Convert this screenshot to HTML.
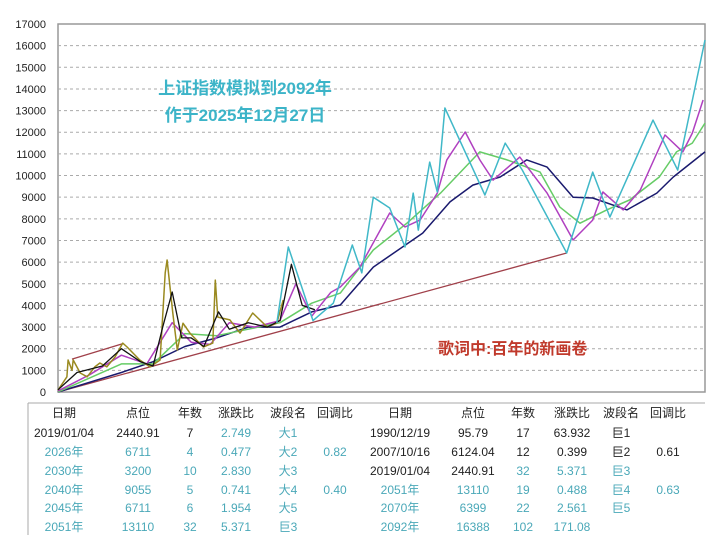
<!DOCTYPE html>
<html><head><meta charset="utf-8">
<style>
body{margin:0;background:#fff;width:720px;height:550px;overflow:hidden;font-family:"Liberation Sans","Noto Sans CJK SC",sans-serif;}
svg text{font-family:"Liberation Sans","Noto Sans CJK SC",sans-serif;}
</style></head>
<body>
<svg id="chart" width="720" height="550" xmlns="http://www.w3.org/2000/svg">
<rect x="58" y="24" width="647" height="368" fill="#fff" stroke="#999" stroke-width="1.5"/>
<g id="grid"></g><g id="yticks"></g><g id="series"></g>
<text x="245" y="94" text-anchor="middle" font-size="17" font-weight="bold" fill="#3cb4c8">上证指数模拟到2092年</text>
<text x="245" y="121" text-anchor="middle" font-size="17" font-weight="bold" fill="#3cb4c8">作于2025年12月27日</text>
<text x="438" y="354" font-size="16" font-weight="bold" fill="#c0392b">歌词中:百年的新画卷</text>
<line x1="28" y1="403" x2="705" y2="403" stroke="#aaa"/>
<line x1="28" y1="403" x2="28" y2="535" stroke="#aaa"/>
<g id="table" font-size="12"></g>
</svg>
<script>
const yTicks=[0,1000,2000,3000,4000,5000,6000,7000,8000,9000,10000,11000,12000,13000,14000,15000,16000,17000];
const trendYears=[1990,2070.2];
const trendVals=[0,6420];
const channelYears=[1992.2,2000.1];
const channelVals=[1520,2220];
const oliveYears=[1990,1991.4,1991.6,1992.2,1992.4,1993.5,1994.6,1995.8,1996.6,1997.7,1999,2000.2,2000.9,2002.9,2004.5,2006.1,2006.9,2007.2,2008.1,2008.8,2009.7,2010.8,2012.9,2014.4,2014.8,2015.2,2017.1,2018.7,2020.7,2023,2024.5,2025.5];
const oliveVals=[90,700,1480,1000,1480,880,700,1160,1340,1160,1620,2260,2080,1480,1160,1480,5500,6100,3650,1940,3180,2720,2080,2260,5170,3460,3330,2720,3650,3000,3180,4250];
const blackYears=[1990,1993,1997,2000,2003,2005,2006.5,2008,2009.5,2011,2013,2015.3,2017,2020,2023,2025,2026.8,2028.5,2030.5];
const blackVals=[100,900,1200,2000,1400,1200,3000,4620,2500,2500,2100,3700,2900,3200,3000,3300,5900,4000,3800];
const cyanYears=[2024.5,2026.3,2030.2,2033.4,2036.4,2037.9,2039.7,2042.3,2044.7,2046,2046.8,2048.6,2049.8,2051,2057.3,2060.5,2063.2,2070.2,2074.3,2077,2083.8,2087.7,2092];
const cyanVals=[3180,6700,3300,4100,6790,5500,9000,8500,6700,9190,7480,10620,9240,13120,9100,11500,10250,6420,10160,8080,12560,10250,16260];
const magentaYears=[1990,1995,2000,2004,2008,2011,2014,2017,2021,2025,2027.5,2030,2033,2034.5,2037.6,2042.3,2044.7,2047.1,2049.8,2051.3,2054.2,2056.5,2058.6,2062.8,2067.1,2071.2,2074.3,2075.9,2079.1,2081.8,2085.7,2088.5,2090,2091.7];
const magentaVals=[50,800,1700,1300,3200,2300,2200,3200,3000,3300,5000,3500,4600,4850,5770,8270,7620,7950,9190,10720,12010,10720,9790,10850,9190,7020,7940,9240,8410,9330,11870,11090,11960,13490];
const greenYears=[1990,2000,2005,2010,2015,2020,2025,2030,2034.5,2039.7,2045,2050.3,2056.5,2060.8,2066,2069.1,2072.3,2076.5,2080.1,2084.8,2087.5,2090,2092];
const greenVals=[0,1300,1300,2700,2600,2900,3200,4100,4570,6560,7800,9190,11090,10720,10160,8550,7800,8410,8870,9930,11090,11500,12420];
const navyYears=[1990,2000,2005,2010,2015,2020,2025,2030,2034.5,2039.7,2047.5,2051.8,2055.4,2059.7,2063.9,2067.1,2071.2,2074.3,2079.7,2084.4,2087,2092];
const navyVals=[0,900,1400,2100,2500,3000,3000,3700,4020,5770,7340,8780,9560,9930,10720,10390,9000,8960,8410,9190,9930,11090];

const X0=58,X1=705,Y0=392,Y1=24;
const xs=y=>X0+(y-1990)/(2092-1990)*(X1-X0);
const ys=v=>Y0-v/17000*(Y0-Y1);
const NS='http://www.w3.org/2000/svg';
const grid=document.getElementById('grid'),yt=document.getElementById('yticks'),ser=document.getElementById('series');
yTicks.forEach(v=>{
  if(v>0&&v<17000){const l=document.createElementNS(NS,'line');
  l.setAttribute('x1',X0);l.setAttribute('x2',X1);l.setAttribute('y1',ys(v));l.setAttribute('y2',ys(v));
  l.setAttribute('stroke','#aaa');l.setAttribute('stroke-dasharray','3,3');
  
  
  grid.appendChild(l);}
  const t=document.createElementNS(NS,'text');
  t.setAttribute('x',46);t.setAttribute('y',ys(v)+4);t.setAttribute('text-anchor','end');t.setAttribute('font-size','11');t.setAttribute('fill','#222');
  t.textContent=v;
  
  
  yt.appendChild(t);
});
function line(yrs,vals,color,w,name){
  const p=document.createElementNS(NS,'polyline');
  p.setAttribute('points',yrs.map((y,i)=>xs(y).toFixed(1)+','+ys(vals[i]).toFixed(1)).join(' '));
  p.setAttribute('fill','none');p.setAttribute('stroke',color);p.setAttribute('stroke-width',w);p.setAttribute('stroke-linejoin','round');
  
  
  ser.appendChild(p);
}
line(trendYears,trendVals,'#a0404a',1.3,'long-trend-line');
line(channelYears,channelVals,'#a0404a',1.3,'channel-line');
line(navyYears,navyVals,'#1a1a6e',1.5,'navy-ma-line');
line(greenYears,greenVals,'#66cc66',1.5,'green-ma-line');
line(magentaYears,magentaVals,'#b040c0',1.5,'magenta-ma-line');
line(oliveYears,oliveVals,'#9a8a20',1.5,'price-line');
line(blackYears,blackVals,'#111',1.3,'black-ma-line');
line(cyanYears,cyanVals,'#40b8c8',1.5,'cyan-wave-line');

const cols=[64,138,190,236,288,335,400,473,523,572,621,668];
const header=['日期','点位','年数','涨跌比','波段名','回调比','日期','点位','年数','涨跌比','波段名','回调比'];
const rowY=[417,437,456,475,494,512,531];
const K='#222',C='#4aa8b8';
const rows=[
 [['2019/01/04',K],['2440.91',K],['7',K],['2.749',C],['大1',C],['',C],['1990/12/19',K],['95.79',K],['17',K],['63.932',K],['巨1',K],['',K]],
 [['2026年',C],['6711',C],['4',C],['0.477',C],['大2',C],['0.82',C],['2007/10/16',K],['6124.04',K],['12',K],['0.399',K],['巨2',K],['0.61',K]],
 [['2030年',C],['3200',C],['10',C],['2.830',C],['大3',C],['',C],['2019/01/04',K],['2440.91',K],['32',C],['5.371',C],['巨3',C],['',C]],
 [['2040年',C],['9055',C],['5',C],['0.741',C],['大4',C],['0.40',C],['2051年',C],['13110',C],['19',C],['0.488',C],['巨4',C],['0.63',C]],
 [['2045年',C],['6711',C],['6',C],['1.954',C],['大5',C],['',C],['2070年',C],['6399',C],['22',C],['2.561',C],['巨5',C],['',C]],
 [['2051年',C],['13110',C],['32',C],['5.371',C],['巨3',C],['',C],['2092年',C],['16388',C],['102',C],['171.08',C],['',C],['',C]]
];
const tb=document.getElementById('table');
function cell(x,y,txt,color,name){
  const t=document.createElementNS(NS,'text');
  t.setAttribute('x',x);t.setAttribute('y',y);t.setAttribute('text-anchor','middle');t.setAttribute('fill',color);
  t.textContent=txt;
  
  
  tb.appendChild(t);
}
header.forEach((h,i)=>cell(cols[i],rowY[0],h,K,'table-header'));
rows.forEach((r,ri)=>r.forEach((c,ci)=>{if(c[0])cell(cols[ci],rowY[ri+1],c[0],c[1],'table-cell');}));
</script>
</body></html>
